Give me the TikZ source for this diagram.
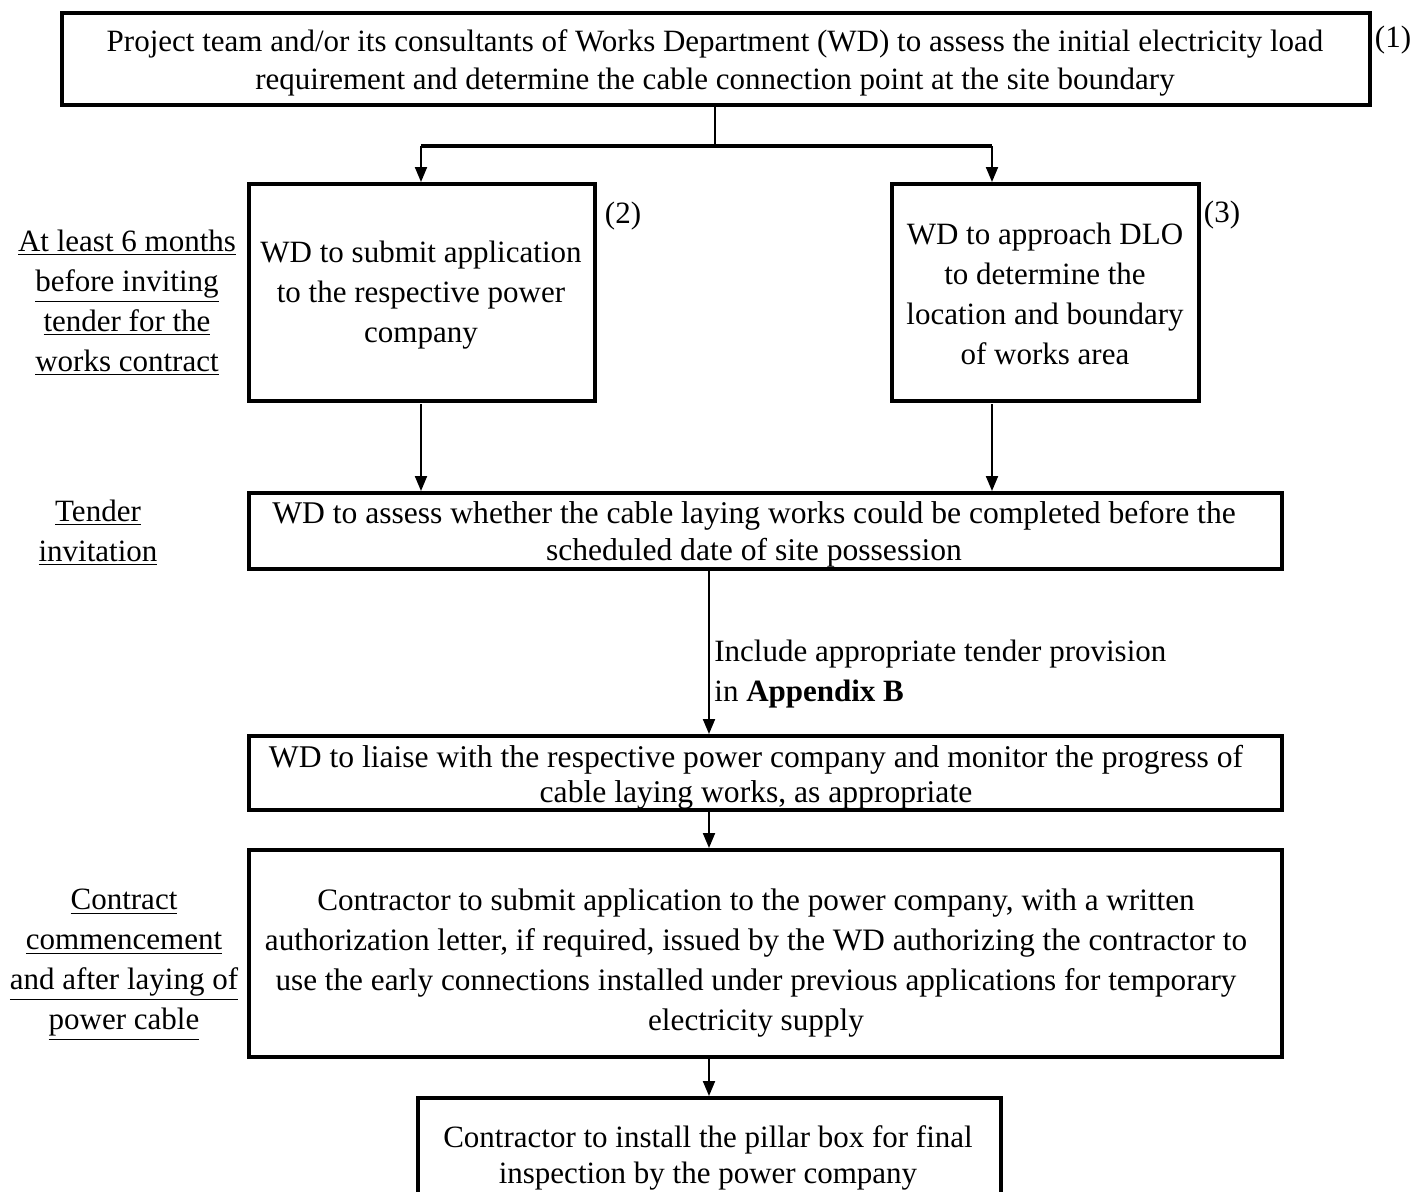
\documentclass[tikz,border=0pt]{standalone}
\usepackage{fontspec}
\setmainfont{Liberation Serif}
\usetikzlibrary{arrows.meta}
\begin{document}
\begin{tikzpicture}[x=0.5pt,y=-0.5pt,
  box/.style={draw,line width=2pt,inner sep=0pt,rectangle},
  txt/.style={align=center,inner sep=0pt,font=\fontsize{15.5pt}{20pt}\selectfont},
  side/.style={align=center,inner sep=0pt,font=\fontsize{15.5pt}{20pt}\selectfont},
  arr/.style={line width=1pt,-{Triangle[width=6pt,length=7.5pt]}},
  thinline/.style={line width=1pt},
  thickline/.style={line width=2pt}]
\useasboundingbox (0,0) rectangle (1415,1191);
\clip (0,0) rectangle (1415,1191);
% boxes
\node[box,minimum width=654pt,minimum height=46pt] (b1) at (716,59) {};
\node[box,minimum width=173pt,minimum height=108.5pt] (b2) at (422,292.5) {};
\node[box,minimum width=153.5pt,minimum height=108.5pt] (b3) at (1045.5,292.5) {};
\node[box,minimum width=516.5pt,minimum height=38pt] (b4) at (765.5,531) {};
\node[box,minimum width=516.5pt,minimum height=37pt] (b5) at (765.5,773) {};
\node[box,minimum width=516.5pt,minimum height=103.5pt] (b6) at (765.5,953.5) {};
\node[box,minimum width=291.5pt,minimum height=57pt] (b7) at (709,1155) {};
% texts
\node[txt,font=\fontsize{15.5pt}{19pt}\selectfont] (t1) at (715,63) {Project team and/or its consultants of Works Department (WD) to assess the initial electricity load\\requirement and determine the cable connection point at the site boundary};
\node[txt] (t2) at (421,295) {WD to submit application\\to the respective power\\company};
\node[txt] (t3) at (1045,294) {WD to approach DLO\\to determine the\\location and boundary\\of works area};
\node[txt,font=\fontsize{15.8pt}{18.5pt}\selectfont] (t4) at (754,534) {WD to assess whether the cable laying works could be completed before the\\scheduled date of site possession};
\node[txt,font=\fontsize{15.8pt}{17.5pt}\selectfont] (t5) at (756,777) {WD to liaise with the respective power company and monitor the progress of\\cable laying works, as appropriate};
\node[txt,font=\fontsize{15.6pt}{20pt}\selectfont] (t6) at (756,963) {Contractor to submit application to the power company, with a written\\authorization letter, if required, issued by the WD authorizing the contractor to\\use the early connections installed under previous applications for temporary\\electricity supply};
\node[txt,font=\fontsize{15.5pt}{18pt}\selectfont] (t7) at (708,1158) {Contractor to install the pillar box for final\\inspection by the power company};
% numbers
\node[side] (n1) at (1393,40) {(1)};
\node[side] (n2) at (623,216) {(2)};
\node[side] (n3) at (1222,215) {(3)};
% left labels
\node[side] (l1) at (127,303) {\underline{At least 6 months}\\\underline{before inviting}\\\underline{tender for the}\\\underline{works contract}};
\node[side] (l2) at (98,533) {\underline{Tender}\\\underline{invitation}};
\node[side] (l3) at (124,965) {\underline{Contract}\\\underline{commencement}\\\underline{and after laying of}\\\underline{power cable}};
% connectors
\coordinate (j) at (715,146);
\coordinate (jl) at (421,146);
\coordinate (jr) at (992,146);
\draw[thinline] (b1.south -| j) -- (j);
\draw[thickline] (jl) -- (jr);
\draw[arr] (jl) -- (jl |- b2.north);
\draw[arr] (jr) -- (jr |- b3.north);
\coordinate (a2) at (421,404);
\coordinate (a3) at (992,404);
\draw[arr] (a2) -- (a2 |- b4.north);
\draw[arr] (a3) -- (a3 |- b4.north);
\coordinate (c4) at (709,569);
\draw[arr] (c4) -- (c4 |- b5.north);
\node[txt,align=left,anchor=west] (e1) at (714,674) {Include appropriate tender provision\\in \textbf{Appendix B}};
\coordinate (c5) at (709,810);
\draw[arr] (c5) -- (c5 |- b6.north);
\coordinate (c6) at (709,1057);
\draw[arr] (c6) -- (c6 |- b7.north);
\end{tikzpicture}
\end{document}
